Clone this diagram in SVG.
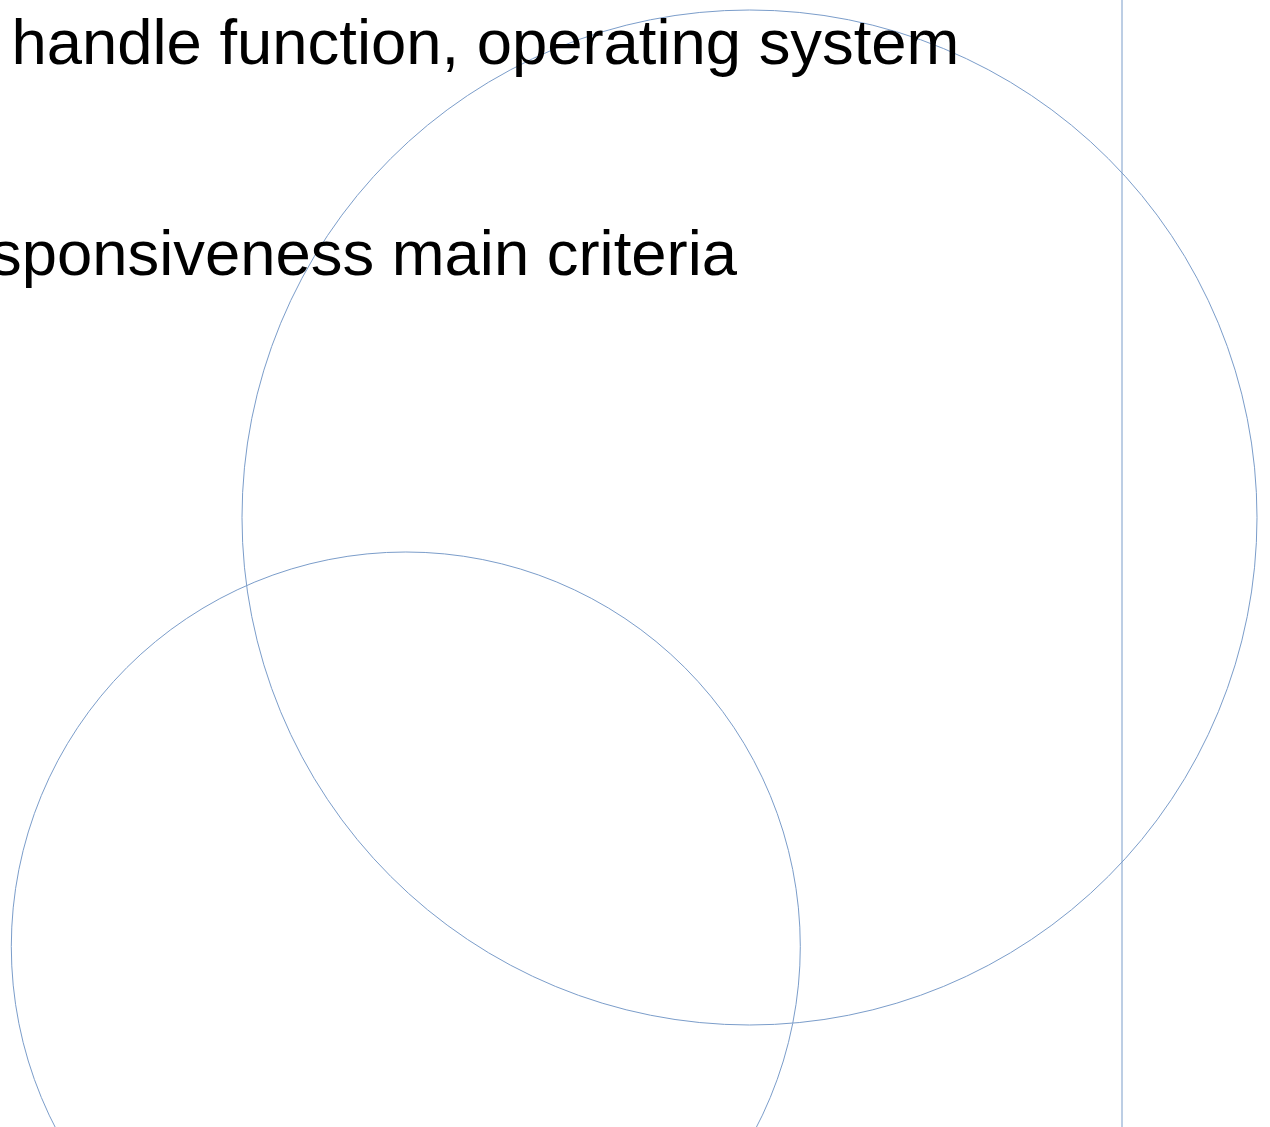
<svg xmlns="http://www.w3.org/2000/svg" width="1270" height="1127" viewBox="0 0 1270 1127">
<style>
.t{font-family:"Liberation Sans",Arial,sans-serif;font-size:63.4px;fill:#000}
.s{fill:none;stroke:#7b9dca;stroke-width:1}
</style>
<rect width="1270" height="1127" fill="#fff"/>
<g id="shapes">
<circle id="big" class="s" cx="749.5" cy="517.5" r="507.5"/>
<circle id="small" class="s" cx="405.8" cy="946.5" r="394.5"/>
<line id="vline" class="s" x1="1122" y1="0" x2="1122" y2="1127"/>
</g>
<g id="texts">
<text class="t" x="11.5" y="64">handle function, operating system</text>
<text class="t" x="737" y="275" text-anchor="end">sponsiveness main criteria</text>
</g>
</svg>
